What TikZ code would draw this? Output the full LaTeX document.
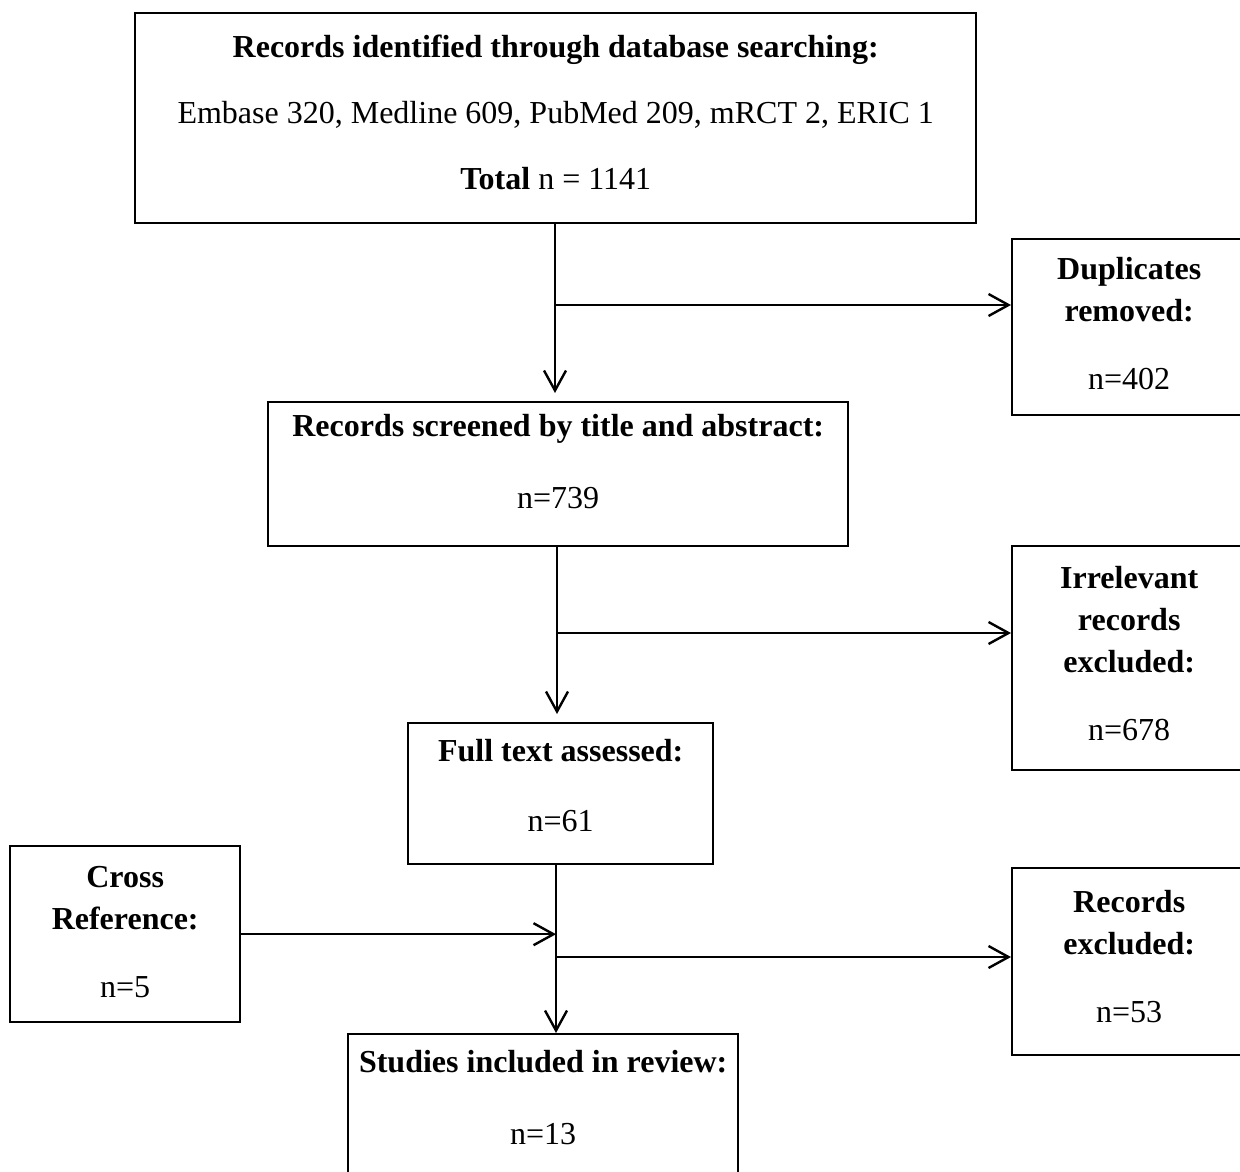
\documentclass[tikz,border=0pt]{standalone}
\usepackage{fontspec}
\setmainfont{Liberation Serif}
\usetikzlibrary{arrows.meta}

\begin{document}
\begin{tikzpicture}[x=0.5pt, y=-0.5pt,
	box/.style={draw, line width=1.2pt, anchor=north west, align=center, inner sep=0pt, font=\fontsize{16}{21}\selectfont},
	flow/.style={line width=1.2pt, -{Straight Barb[length=10pt, width=11pt, line width=1.2pt]}}]
	\useasboundingbox (0,0) rectangle (1240,1171);
	% boxes
	\node [box, minimum width=420.5pt, minimum height=105pt, text depth=6pt] (search) at (134,12) {\textbf{Records identified through database searching:}\\[12pt] Embase 320, Medline 609, PubMed 209, mRCT 2, ERIC 1\\[12pt] \textbf{Total} n = 1141};
	\node [box, minimum width=117pt, minimum height=88pt, text depth=4pt] (dups) at (1011,238) {\textbf{Duplicates}\\ \textbf{removed:}\\[13pt] n=402};
	\node [box, minimum width=290pt, minimum height=72pt, text depth=13pt] (screen) at (267,401) {\textbf{Records screened by title and abstract:}\\[15pt] n=739};
	\node [box, minimum width=117pt, minimum height=112pt, text depth=5pt] (irrel) at (1011,545) {\textbf{Irrelevant}\\ \textbf{records}\\ \textbf{excluded:}\\[13pt] n=678};
	\node [box, minimum width=152.5pt, minimum height=70.5pt, text depth=8pt] (full) at (407,722) {\textbf{Full text assessed:}\\[14pt] n=61};
	\node [box, minimum width=115pt, minimum height=88pt, text depth=2pt] (cross) at (9,845) {\textbf{Cross}\\ \textbf{Reference:}\\[13pt] n=5};
	\node [box, minimum width=117pt, minimum height=93.5pt, text depth=5pt] (excl) at (1011,867) {\textbf{Records}\\ \textbf{excluded:}\\[13pt] n=53};
	\node [box, minimum width=195pt, minimum height=71pt, text depth=8pt] (incl) at (347,1033) {\textbf{Studies included in review:}\\[15pt] n=13};
	% junctions
	\coordinate (j1) at (555,305);
	\coordinate (j2) at (557,633);
	\coordinate (j3) at (556,957);
	% connectors
	\draw [flow, shorten >=4pt] (search.south -| j1) -- (screen.north -| j1);
	\draw [flow] (j1) -- (j1 -| dups.west);
	\draw [flow, shorten >=4pt] (screen.south -| j2) -- (full.north -| j2);
	\draw [flow] (j2) -- (j2 -| irrel.west);
	\draw [flow] (full.south -| j3) -- (incl.north -| j3);
	\draw [flow] (cross.east) -- (cross.east -| j3);
	\draw [flow] (j3) -- (j3 -| excl.west);
\end{tikzpicture}
\end{document}
